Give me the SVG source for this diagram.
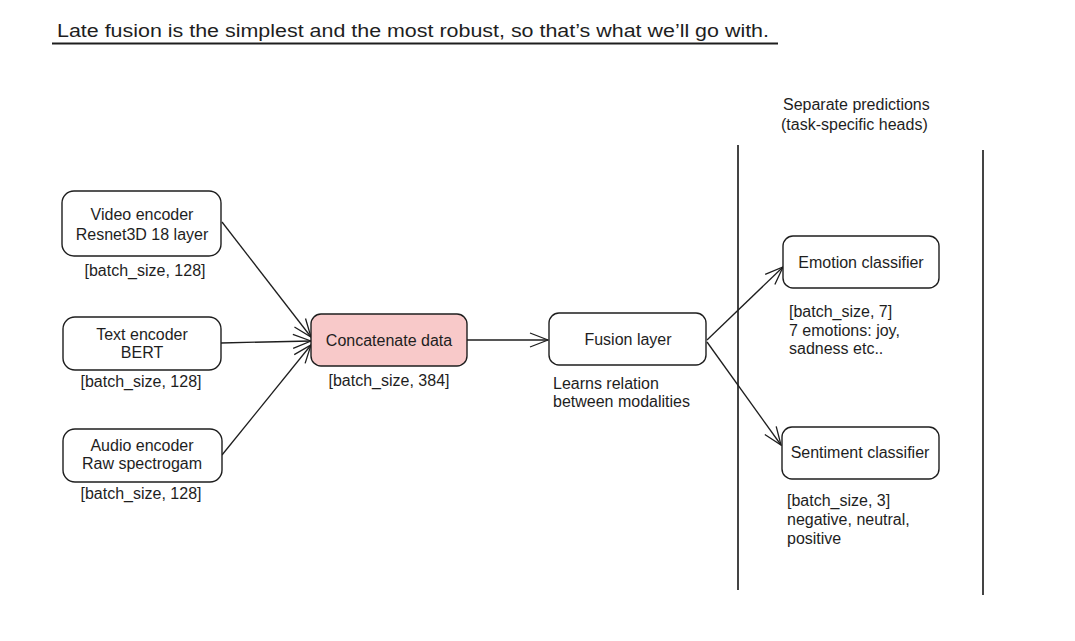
<svg xmlns="http://www.w3.org/2000/svg" width="1075" height="641" viewBox="0 0 1075 641">
<defs>
<style>
text{font-family:"Liberation Sans","Noto Sans",sans-serif;fill:#1e1e1e;font-size:16px}
.c{text-anchor:middle}
.box{fill:#fff;stroke:#1e1e1e;stroke-width:1.4}
.pink{fill:#f8c9c9}
.conn{stroke:#1e1e1e;stroke-width:1.3;fill:none}
.title{font-size:17.5px}
</style>
<marker id="ah" viewBox="0 0 20 20" refX="19" refY="10" markerWidth="20" markerHeight="20" markerUnits="userSpaceOnUse" orient="auto">
<path d="M1,3 L19,10 L1,17" fill="none" stroke="#1e1e1e" stroke-width="1.3"/>
</marker>
</defs>
<rect width="1075" height="641" fill="#fff"/>
<g id="title">
<text class="title" x="57" y="37" textLength="712" lengthAdjust="spacingAndGlyphs">Late fusion is the simplest and the most robust, so that’s what we’ll go with.</text>
<line x1="52" y1="43.5" x2="778" y2="43.5" stroke="#1e1e1e" stroke-width="1.8"/>
</g>
<g id="dividers">
<line x1="738" y1="145" x2="738" y2="590" stroke="#444" stroke-width="2"/>
<line x1="983" y1="150" x2="983" y2="595" stroke="#444" stroke-width="2"/>
<text x="783" y="110">Separate predictions</text>
<text x="781" y="130">(task-specific heads)</text>
</g>
<g id="connectors">
<path class="conn" d="M222,222 L311,337" marker-end="url(#ah)"/>
<path class="conn" d="M221,343 L311,341" marker-end="url(#ah)"/>
<path class="conn" d="M222,455 L311,345" marker-end="url(#ah)"/>
<path class="conn" d="M467,340 L548,340" marker-end="url(#ah)"/>
<path class="conn" d="M707,340 L783,267" marker-end="url(#ah)"/>
<path class="conn" d="M707,342 L781,445" marker-end="url(#ah)"/>
</g>
<g id="video-encoder">
<rect class="box" x="62" y="191" width="159" height="65" rx="12"/>
<text class="c" x="142" y="220">Video encoder</text>
<text class="c" x="142" y="240">Resnet3D 18 layer</text>
<text class="c" x="145" y="276">[batch_size, 128]</text>
</g>
<g id="text-encoder">
<rect class="box" x="63" y="317" width="158" height="53" rx="12"/>
<text class="c" x="142" y="340">Text encoder</text>
<text class="c" x="142" y="358">BERT</text>
<text class="c" x="141" y="387">[batch_size, 128]</text>
</g>
<g id="audio-encoder">
<rect class="box" x="63" y="429" width="159" height="53" rx="12"/>
<text class="c" x="142" y="451">Audio encoder</text>
<text class="c" x="142" y="469">Raw spectrogam</text>
<text class="c" x="141" y="499">[batch_size, 128]</text>
</g>
<g id="concatenate">
<rect class="box pink" x="311" y="314" width="156" height="52" rx="10"/>
<text class="c" x="389" y="346">Concatenate data</text>
<text class="c" x="389" y="386">[batch_size, 384]</text>
</g>
<g id="fusion">
<rect class="box" x="549" y="313" width="157" height="52" rx="10"/>
<text class="c" x="628" y="345">Fusion layer</text>
<text x="553" y="389">Learns relation</text>
<text x="553" y="407">between modalities</text>
</g>
<g id="emotion">
<rect class="box" x="783" y="236" width="156" height="52" rx="10"/>
<text class="c" x="861" y="268">Emotion classifier</text>
<text x="789" y="317">[batch_size, 7]</text>
<text x="789" y="336">7 emotions: joy,</text>
<text x="789" y="354">sadness etc..</text>
</g>
<g id="sentiment">
<rect class="box" x="782" y="427" width="157" height="52" rx="10"/>
<text class="c" x="860" y="458">Sentiment classifier</text>
<text x="787" y="506">[batch_size, 3]</text>
<text x="787" y="525">negative, neutral,</text>
<text x="787" y="544">positive</text>
</g>
</svg>
